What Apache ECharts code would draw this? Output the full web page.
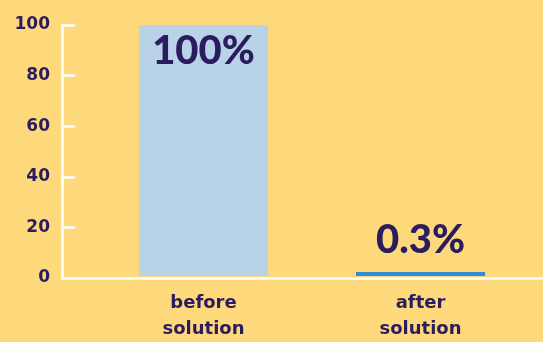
<!DOCTYPE html>
<html><head><meta charset="utf-8">
<script src="https://cdn.jsdelivr.net/npm/echarts@6/dist/echarts.min.js"></script>
<style>html,body{margin:0;padding:0;background:#FED97B}#c{width:543px;height:342px}</style>
</head><body><div id="c"></div>
<script>
const categories = ['before\nsolution', 'after\nsolution'];
const values = [100, 0.3];
const valueLabels = ['100%', '0.3%'];
const barColors = ['#B8D2E7', '#2E8ECF'];
const yMin = 0, yMax = 100, yStep = 20;

const navy = '#2A1C5E';
const bigFont = 'Lato';
const smallFont = 'DejaVu Sans';
const chart = echarts.init(document.getElementById('c'), null, {renderer: 'canvas'});
chart.setOption({
  backgroundColor: '#FED97B',
  animation: false,
  grid: [
    {left: 95, right: 14, top: 25, bottom: 64},
    {left: 62, right: 0, top: 25, bottom: 64}
  ],
  xAxis: [
    {type: 'category', gridIndex: 0, data: categories,
     axisLine: {show: false}, axisTick: {show: false},
     axisLabel: {color: navy, fontFamily: smallFont, fontWeight: 'bold', fontSize: 18, lineHeight: 26, margin: 14}},
    {type: 'value', gridIndex: 1, min: 0, max: 1,
     axisLine: {show: true, lineStyle: {color: '#fff', width: 2.5}},
     axisTick: {show: false}, axisLabel: {show: false}, splitLine: {show: false}}
  ],
  yAxis: [
    {type: 'value', gridIndex: 0, min: yMin, max: yMax, interval: yStep, show: false},
    {type: 'value', gridIndex: 1, min: yMin, max: yMax, interval: yStep,
     axisLine: {show: true, lineStyle: {color: '#fff', width: 2.5}},
     axisTick: {show: true, inside: true, length: 13, lineStyle: {color: '#fff', width: 2.5}},
     axisLabel: {color: navy, fontFamily: smallFont, fontWeight: 'bold', fontSize: 17, margin: 12},
     splitLine: {show: false}}
  ],
  series: [{
    type: 'bar', xAxisIndex: 0, yAxisIndex: 0,
    barWidth: 129, barMinHeight: 4,
    data: values.map((v, i) => ({
      value: v,
      itemStyle: {color: barColors[i]},
      label: {show: true, position: i === 0 ? 'insideTop' : 'top', distance: i === 0 ? 6 : 12,
        formatter: valueLabels[i], color: navy, fontFamily: bigFont, fontWeight: 900, fontSize: 40}
    }))
  }]
});
</script></body></html>
